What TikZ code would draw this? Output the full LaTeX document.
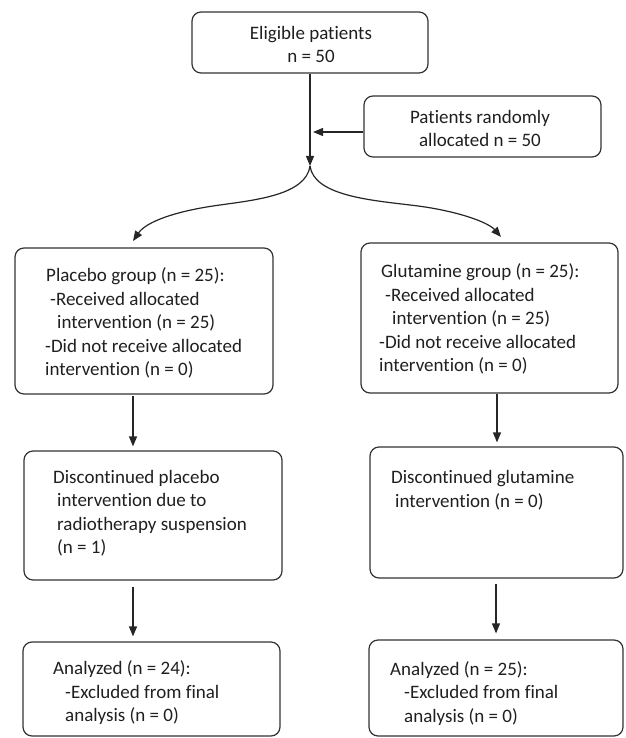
\documentclass[tikz,border=0pt]{standalone}
\usepackage{fontspec}
\setmainfont{Carlito}[Ligatures={NoCommon,NoRare,NoDiscretionary}]
\usetikzlibrary{arrows.meta}
\begin{document}
\begin{tikzpicture}[x=1pt,y=-1pt,
  box/.style={draw=black!80, line width=1.2pt, rounded corners=9pt, inner sep=0pt},
  txt/.style={anchor=base west, align=left, inner sep=0pt, text=black!88,
    font=\fontsize{19}{23.4}\selectfont},
  ctxt/.style={anchor=base, align=center, inner sep=0pt, text=black!88,
    font=\fontsize{19}{23}\selectfont},
  arr/.style={draw=black!85, line width=1.2pt, -{Triangle[length=10pt,width=8pt]}}]
\useasboundingbox (0,0) rectangle (625,738);

% boxes
\node[box, minimum width=236pt, minimum height=61pt] (b1) at (310,42.5) {};
\node[box, minimum width=237pt, minimum height=61pt] (b2) at (482.5,126.5) {};
\node[box, minimum width=258pt, minimum height=146pt] (pl) at (144,321) {};
\node[box, minimum width=257pt, minimum height=150pt] (gl) at (489.5,318) {};
\node[box, minimum width=258pt, minimum height=129pt] (dp) at (153,515.5) {};
\node[box, minimum width=253pt, minimum height=131pt] (dg) at (496.5,512.5) {};
\node[box, minimum width=257pt, minimum height=94pt] (ap) at (151.5,689) {};
\node[box, minimum width=254pt, minimum height=96pt] (ag) at (496,688) {};

% texts (anchored at the baseline of the last line)
\node[ctxt] (t1) at (311,63) {Eligible patients\\n = 50};
\node[ctxt] (t2) at (480,147) {Patients randomly\\allocated n = 50};
\node[txt] (t3) at (45,375.5) {\hspace*{1pt}Placebo group (n = 25):\\\hspace*{5pt}-Received allocated\\\hspace*{12pt}intervention (n = 25)\\-Did not receive allocated\\intervention (n = 0)};
\node[txt] (t4) at (379,371.5) {\hspace*{2pt}Glutamine group (n = 25):\\\hspace*{6pt}-Received allocated\\\hspace*{13pt}intervention (n = 25)\\-Did not receive allocated\\intervention (n = 0)};
\node[txt] (t5) at (53,553.5) {Discontinued placebo\\\hspace*{4pt}intervention due to\\\hspace*{4pt}radiotherapy suspension\\\hspace*{4pt}(n = 1)};
\node[txt] (t6) at (391,507) {Discontinued glutamine\\\hspace*{4pt}intervention (n = 0)};
\node[txt] (t7) at (53,721.5) {Analyzed (n = 24):\\\hspace*{12pt}-Excluded from final\\\hspace*{12pt}analysis (n = 0)};
\node[txt] (t8) at (390,722) {Analyzed (n = 25):\\\hspace*{14pt}-Excluded from final\\\hspace*{14pt}analysis (n = 0)};

% connectors
\coordinate (split) at (310,166);
\coordinate (m) at (313,132);
\coordinate (xl) at (133,0);
\coordinate (xr) at (497,0);
\coordinate (xr2) at (496,0);
\coordinate (lt) at (133,241);
\coordinate (rt) at (501,237);

\draw[arr] (b1.south) -- (split);
\draw[arr] (b2.west |- m) -- (m);
\draw[arr] (split) .. controls (306,195) and (255,200) .. (220,205)
  .. controls (175,211) and (146,222) .. (lt);
\draw[arr] (split) .. controls (314,195) and (368,200) .. (410,205)
  .. controls (455,210) and (488,222) .. (rt);
\draw[arr, shorten <=1pt, shorten >=4pt] (pl.south -| xl) -- (dp.north -| xl);
\draw[arr, shorten <=0.5pt, shorten >=4pt] (gl.south -| xr) -- (dg.north -| xr);
\draw[arr, shorten <=6pt, shorten >=5pt] (dp.south -| xl) -- (ap.north -| xl);
\draw[arr, shorten <=5pt, shorten >=6pt] (dg.south -| xr2) -- (ag.north -| xr2);
\end{tikzpicture}
\end{document}
